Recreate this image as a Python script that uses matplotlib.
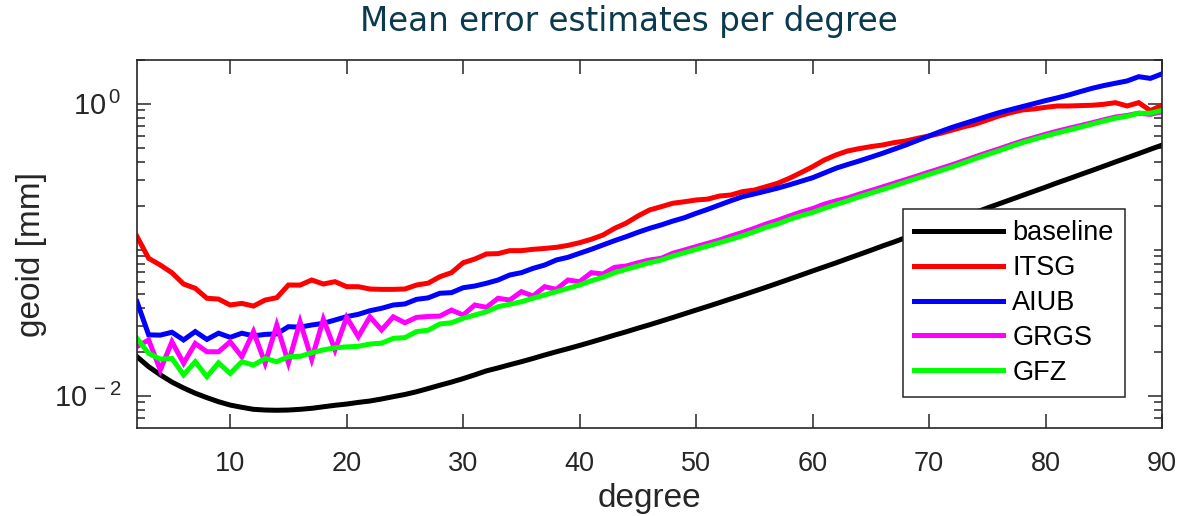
import matplotlib
matplotlib.use("Agg")
import matplotlib.pyplot as plt
from matplotlib.ticker import FixedLocator, FixedFormatter, LogLocator, NullFormatter

degrees = list(range(2, 91))

baseline = [0.0185, 0.0158, 0.0139, 0.0124, 0.0113, 0.0104, 0.0097, 0.0091, 0.00863, 0.00833,
            0.00807, 0.00798, 0.00795, 0.00798, 0.00807, 0.0082, 0.0084, 0.0086, 0.00877, 0.009,
            0.0092, 0.0095, 0.00985, 0.0102, 0.01065, 0.0112, 0.0118, 0.0124, 0.0131, 0.0139,
            0.0148, 0.0155, 0.0163, 0.0171, 0.0180, 0.0190, 0.0200, 0.0210, 0.0221, 0.0233,
            0.0246, 0.0260, 0.0274, 0.0290, 0.0306, 0.0324, 0.0343, 0.0364, 0.0386, 0.0409,
            0.0434, 0.0461, 0.0489, 0.0520, 0.0553, 0.0589, 0.0628, 0.0670, 0.0715, 0.0762,
            0.0812, 0.0868, 0.0927, 0.099, 0.106, 0.113, 0.121, 0.129, 0.138, 0.148,
            0.158, 0.169, 0.180, 0.193, 0.206, 0.220, 0.235, 0.251, 0.268, 0.287,
            0.306, 0.327, 0.349, 0.373, 0.399, 0.426, 0.455, 0.487, 0.520]

itsg = [0.123, 0.0873, 0.0785, 0.0695, 0.0582, 0.0544, 0.0465, 0.0459, 0.0418, 0.0429,
        0.0411, 0.0452, 0.0469, 0.0573, 0.0572, 0.062, 0.0582, 0.0604, 0.0558, 0.0558,
        0.0538, 0.0535, 0.0535, 0.0538, 0.0573, 0.059, 0.0653, 0.0696, 0.0814, 0.0863,
        0.0935, 0.094, 0.0985, 0.0985, 0.1006, 0.102, 0.1038, 0.107, 0.1117, 0.1178,
        0.126, 0.140, 0.152, 0.170, 0.187, 0.197, 0.208, 0.213, 0.219, 0.222,
        0.233, 0.237, 0.25, 0.256, 0.27, 0.285, 0.308, 0.337, 0.37, 0.411,
        0.445, 0.474, 0.492, 0.508, 0.521, 0.541, 0.555, 0.579, 0.601, 0.627,
        0.66, 0.695, 0.726, 0.773, 0.824, 0.867, 0.905, 0.92, 0.944, 0.964,
        0.964, 0.97, 0.975, 0.99, 1.016, 0.964, 1.016, 0.896, 0.975]

aiub = [0.044, 0.0261, 0.026, 0.0272, 0.0241, 0.0275, 0.0243, 0.0268, 0.0251, 0.0268,
        0.0257, 0.0263, 0.0265, 0.0297, 0.0295, 0.0305, 0.0313, 0.033, 0.0348, 0.0361,
        0.0382, 0.0397, 0.0418, 0.0425, 0.0457, 0.0468, 0.0503, 0.0508, 0.0549, 0.0564,
        0.0589, 0.062, 0.0671, 0.0696, 0.0745, 0.0785, 0.085, 0.0887, 0.0945, 0.1006,
        0.1077, 0.1153, 0.1228, 0.1315, 0.140, 0.1477, 0.157, 0.1656, 0.1774, 0.189,
        0.2024, 0.2166, 0.2307, 0.241, 0.252, 0.264, 0.278, 0.294, 0.311, 0.335,
        0.361, 0.383, 0.405, 0.43, 0.457, 0.488, 0.521, 0.56, 0.601, 0.645,
        0.689, 0.73, 0.773, 0.82, 0.867, 0.91, 0.954, 1.0, 1.049, 1.095,
        1.147, 1.21, 1.274, 1.33, 1.38, 1.43, 1.53, 1.49, 1.6]

grgs = [0.0217, 0.0241, 0.015, 0.0234, 0.0167, 0.0228, 0.020, 0.020, 0.0234, 0.0185,
        0.0275, 0.0167, 0.0305, 0.0168, 0.0321, 0.0178, 0.0334, 0.0206, 0.0344, 0.0254,
        0.0347, 0.0282, 0.0347, 0.0316, 0.0344, 0.0349, 0.0351, 0.0386, 0.0357, 0.0418,
        0.0403, 0.0465, 0.0452, 0.0516, 0.0482, 0.0558, 0.0535, 0.062, 0.0604, 0.0696,
        0.0682, 0.0757, 0.0773, 0.0814, 0.085, 0.0873, 0.0945, 0.0995, 0.105, 0.1106,
        0.1165, 0.124, 0.1315, 0.140, 0.150, 0.159, 0.170, 0.181, 0.191, 0.205,
        0.216, 0.226, 0.240, 0.254, 0.269, 0.285, 0.302, 0.320, 0.34, 0.36,
        0.382, 0.407, 0.434, 0.462, 0.49, 0.522, 0.555, 0.585, 0.617, 0.648,
        0.678, 0.708, 0.74, 0.775, 0.81, 0.83, 0.86, 0.845, 0.88]

gfz = [0.0247, 0.0195, 0.0178, 0.018, 0.0139, 0.0171, 0.0135, 0.0168, 0.0142, 0.0171,
       0.0162, 0.018, 0.0171, 0.0185, 0.0186, 0.0197, 0.0206, 0.0213, 0.0216, 0.0218,
       0.0226, 0.0229, 0.0247, 0.025, 0.0275, 0.0281, 0.031, 0.0316, 0.0339, 0.0357,
       0.0376, 0.0407, 0.0423, 0.044, 0.0465, 0.049, 0.0516, 0.0544, 0.0573, 0.0613,
       0.0647, 0.0696, 0.0734, 0.0773, 0.0814, 0.085, 0.0905, 0.0953, 0.1006, 0.106,
       0.1117, 0.1178, 0.1247, 0.1328, 0.1423, 0.150, 0.161, 0.171, 0.180, 0.192,
       0.204, 0.216, 0.230, 0.244, 0.258, 0.274, 0.291, 0.309, 0.328, 0.348,
       0.369, 0.394, 0.421, 0.448, 0.476, 0.508, 0.54, 0.57, 0.60, 0.63,
       0.66, 0.69, 0.725, 0.76, 0.795, 0.82, 0.86, 0.86, 0.90]

series_names = ["baseline", "ITSG", "AIUB", "GRGS", "GFZ"]
series_colors = ["#000000", "#ff0000", "#0000ff", "#ff00ff", "#00ff00"]

xticks = [10, 20, 30, 40, 50, 60, 70, 80, 90]
yticks = [1e-2, 1e0]
ytick_labels = [r"$\mathregular{10^{\,-2}}$", r"$\mathregular{10^{\,0}}$"]

plt.rcParams["font.family"] = ["Liberation Sans", "DejaVu Sans"]
plt.rcParams["mathtext.fontset"] = "custom"
plt.rcParams["mathtext.rm"] = "Liberation Sans"

W, H = 1177, 516
fig = plt.figure(figsize=(W / 100, H / 100), dpi=100)
ax = fig.add_axes([137 / W, 1 - 427.7 / H, (1162 - 137) / W, (427.7 - 59.7) / H])

gray = "#262626"
for name, col, vals in zip(series_names, series_colors, [baseline, itsg, aiub, grgs, gfz]):
    ax.plot(degrees, vals, color=col, lw=3.6, label=name, solid_joinstyle="miter")

ax.set_yscale("log")
ax.set_xlim(2, 90)
ax.set_ylim(0.00604, 2.0)

ax.xaxis.set_major_locator(FixedLocator(xticks))
ax.yaxis.set_major_locator(FixedLocator(yticks))
ax.yaxis.set_major_formatter(FixedFormatter(ytick_labels))
ax.yaxis.set_minor_locator(LogLocator(base=10, subs=range(1, 10), numticks=20))
ax.yaxis.set_minor_formatter(NullFormatter())

ax.tick_params(axis="both", which="both", direction="in", top=True, right=True,
               colors=gray, labelcolor=gray)
ax.tick_params(axis="x", which="major", labelsize=19.5)
ax.tick_params(axis="y", which="major", labelsize=21)
ax.tick_params(axis="both", which="major", length=10, width=1.1)
ax.tick_params(axis="y", which="minor", length=6, width=1.1)
ax.tick_params(axis="x", which="major", pad=17)
ax.tick_params(axis="y", which="major", pad=11)
for s in ax.spines.values():
    s.set_color(gray)
    s.set_linewidth(1.2)

ax.set_xlabel("degree", fontsize=24, color=gray, labelpad=4)
ax.set_ylabel("geoid [mm]", fontsize=24, color=gray)
ax.yaxis.set_label_coords((47 - 137) / 1025, (427.7 - 255) / 368)

fig.text(629 / W, 1 - 22 / H, "Mean error estimates per degree", family="DejaVu Sans",
         fontsize=23.5, color="#0b3a4e", ha="center", va="center")

leg = ax.legend(loc="upper left", bbox_to_anchor=(902.7 / W, 1 - 209.3 / H),
                bbox_transform=fig.transFigure, fontsize=19.5, frameon=True, fancybox=False,
                framealpha=1, edgecolor=gray, borderaxespad=0, borderpad=0.4,
                handlelength=3.3, handletextpad=0.35, labelspacing=0.33)
leg.get_frame().set_linewidth(1.1)
for line in leg.get_lines():
    line.set_linewidth(3.6)

fig.savefig("out.png", dpi=100)
